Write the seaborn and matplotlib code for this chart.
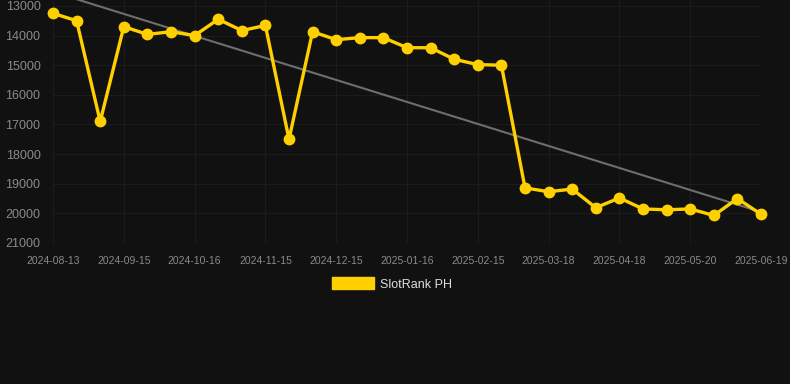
import numpy as np
import pandas as pd
import matplotlib.pyplot as plt
import seaborn as sns

tick_labels = ['2024-08-13', '2024-09-15', '2024-10-16', '2024-11-15', '2024-12-15',
               '2025-01-16', '2025-02-15', '2025-03-18', '2025-04-18', '2025-05-20', '2025-06-19']
ranks = [13250, 13500, 16900, 13700, 13960, 13870, 14000, 13450, 13830, 13660,
         17500, 13870, 14140, 14070, 14070, 14410, 14410, 14800, 14980, 15000,
         19140, 19270, 19180, 19810, 19480, 19850, 19880, 19850, 20070, 19500, 20030]
series_name = 'SlotRank PH'

bg = '#111111'
yellow = '#ffd000'

df = pd.DataFrame({'idx': np.arange(len(ranks)), 'rank': ranks})

# linear trend over the series
k, b = np.polyfit(df['idx'], df['rank'], 1)
df['trend'] = k * df['idx'] + b

sns.set_theme(style='dark')
plt.rcParams['font.family'] = ['Liberation Sans', 'DejaVu Sans']

fig = plt.figure(figsize=(7.9, 3.84), dpi=100, facecolor=bg)
ax = fig.add_axes([53 / 790, 1 - 243 / 384, (761 - 53) / 790, 243 / 384])
ax.set_facecolor(bg)

sns.lineplot(data=df, x='idx', y='trend', ax=ax, color='#6e6e6e', linewidth=1.5)
sns.lineplot(data=df, x='idx', y='rank', ax=ax, color=yellow, linewidth=2.4,
             marker='o', markersize=8.5, markeredgewidth=0, clip_on=False,
             legend=False)

ax.set_xlim(0, len(ranks) - 1)
ax.set_ylim(21000, 12800)
ax.set_yticks(range(13000, 21001, 1000))
ax.set_yticklabels([str(v) for v in range(13000, 21001, 1000)])
ax.set_xticks(np.arange(0, len(ranks), 3))
ax.set_xticklabels(tick_labels)
ax.tick_params(axis='y', colors='#8a8a8a', labelsize=9, length=0, pad=9)
ax.tick_params(axis='x', colors='#8a8a8a', labelsize=7.5, length=0, pad=9)
ax.grid(True, color='#1c1c1c', linewidth=0.8)
ax.axhline(21000, color='#2a2a2a', linewidth=0.8)
ax.set_xlabel('')
ax.set_ylabel('')
for s in ax.spines.values():
    s.set_visible(False)

handle = plt.Rectangle((0, 0), 1, 1, color=yellow)
fig.legend([handle], [series_name], loc='center', bbox_to_anchor=(392 / 790, 1 - 284 / 384),
           frameon=False, labelcolor='#dddddd', fontsize=9,
           handlelength=3.3, handleheight=1.1, handletextpad=0.5)

fig.savefig('out.png', dpi=100, facecolor=bg)
